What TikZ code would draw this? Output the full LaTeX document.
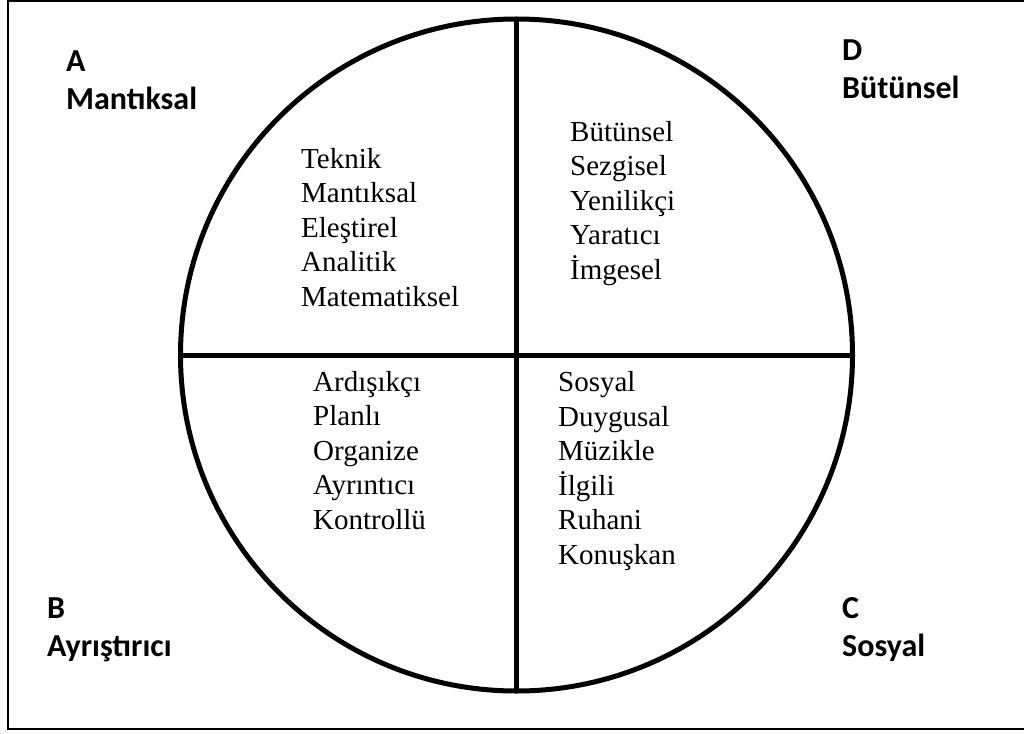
\documentclass[tikz,border=0pt]{standalone}
\usepackage{fontspec}
\setmainfont{Liberation Serif}
\newfontfamily\lblfont{Carlito}
\tikzset{
  lbl/.style={inner sep=0pt, anchor=base west, align=left, font=\lblfont\bfseries\fontsize{32}{38}\selectfont},
  words/.style={inner sep=0pt, anchor=base west, align=left, font=\fontsize{29}{34.5}\selectfont},
  thick line/.style={line width=5pt},
}
\begin{document}
\begin{tikzpicture}[x=1pt,y=-1pt]
\useasboundingbox (0,0) rectangle (1024,733);
\begin{scope}
\clip (0,0) rectangle (1024,733);
\draw[line width=2pt] (8,1) rectangle (1040,729);
\end{scope}
\node[circle, draw, thick line, minimum size=672pt, inner sep=0pt, outer sep=0pt] (c) at (516.5,355) {};
\draw[thick line] (c.west) -- (c.east);
\draw[thick line] (c.north) -- (c.south);
% base anchor of a multi-line node = baseline of its last line
\node[lbl] (la) at (66,110) {A\\Mantıksal};
\node[lbl] (ld) at (842,99) {D\\Bütünsel};
\node[lbl] (lb) at (47,656) {B\\Ayrıştırıcı};
\node[lbl] (lc) at (842,656) {C\\Sosyal};
\node[words] (qa) at (301,306) {Teknik\\Mantıksal\\Eleştirel\\Analitik\\Matematiksel};
\node[words] (qd) at (570,279) {Bütünsel\\Sezgisel\\Yenilikçi\\Yaratıcı\\İmgesel};
\node[words] (qb) at (313,529) {Ardışıkçı\\Planlı\\Organize\\Ayrıntıcı\\Kontrollü};
\node[words] (qc) at (558,564) {Sosyal\\Duygusal\\Müzikle\\İlgili\\Ruhani\\Konuşkan};
\end{tikzpicture}
\end{document}
